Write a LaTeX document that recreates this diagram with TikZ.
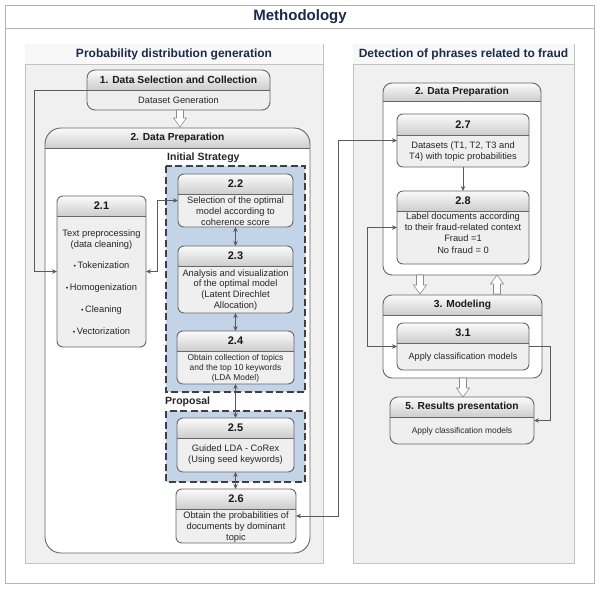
\documentclass[tikz,border=0pt]{standalone}
\usepackage{fontspec}
\setmainfont{Liberation Sans}
\usetikzlibrary{arrows.meta,calc}
\definecolor{navy}{HTML}{1B2A4A}
\definecolor{panelbg}{HTML}{F0F0F0}
\definecolor{panelln}{HTML}{C2C2C2}
\definecolor{outerln}{HTML}{B4B4B4}
\definecolor{boxln}{HTML}{666666}
\definecolor{hdtop}{HTML}{FBFBFB}
\definecolor{hdbot}{HTML}{CDCDCD}
\definecolor{bodyg}{HTML}{EFEFEF}
\definecolor{dashblue}{HTML}{C3D3E8}
\definecolor{conn}{HTML}{5A5A5A}
\tikzset{
  bodytext/.style={font=\fontsize{9.3}{10.9}\selectfont, align=center, text=black!85, inner sep=0pt},
  smalltext/.style={font=\fontsize{8.4}{10}\selectfont, align=center, text=black!85, inner sep=0pt},
  paneltext/.style={font=\bfseries\fontsize{12}{14}\selectfont, text=navy, inner sep=0pt},
  labeltext/.style={font=\bfseries\fontsize{10.5}{12}\selectfont, text=black!85, inner sep=0pt, anchor=west},
  conn/.style={draw=conn, line width=0.8pt},
  tip/.tip={Stealth[length=5pt,width=4.5pt]},
  hollow/.style={draw=black!45, fill=white, line width=0.6pt},
  dashregion/.style={fill=dashblue, draw=black!75, line width=1.3pt, dash pattern=on 7pt off 3.5pt},
  panel/.style={fill=panelbg, draw=panelln, line width=0.8pt}
}
\newcommand{\numfont}{\bfseries\fontsize{11}{13}\selectfont}
\newcommand{\hdfont}{\bfseries\fontsize{10.2}{12}\selectfont}
% #1 name, #2 x1, #3 y1, #4 x2, #5 y2, #6 divider y, #7 radius, #8 body fill, #9 title
\newcommand{\mkbox}[9]{%
  \pgfmathsetmacro{\bw}{#4-#2}\pgfmathsetmacro{\bh}{#5-#3}%
  \node[fill=#8, rounded corners=#7pt, minimum width=\bw pt, minimum height=\bh pt, inner sep=0pt, outer sep=0pt] (#1) at ({(#2+#4)/2},{(#3+#5)/2}) {};
  \begin{scope}
    \clip[rounded corners=#7pt] (#2,#3) rectangle (#4,#5);
    \shade[top color=hdtop, bottom color=hdbot] (#2,#3) rectangle (#4,#6);
  \end{scope}
  \draw[boxln, line width=0.6pt] (#2,#6) -- (#4,#6);
  \draw[boxln, line width=0.9pt, rounded corners=#7pt] (#2,#3) rectangle (#4,#5);
  \node[text=black!90] (#1-h) at ({(#2+#4)/2},{(#3+#6)/2}) {#9};
}
\newcommand{\hdown}[3]{%
  \draw[hollow] (#1-3.5,#2) -- (#1+3.5,#2) -- (#1+3.5,#3-9) -- (#1+6.5,#3-9) -- (#1,#3) -- (#1-6.5,#3-9) -- (#1-3.5,#3-9) -- cycle;}
\newcommand{\hup}[3]{%
  \draw[hollow] (#1-3.5,#2) -- (#1+3.5,#2) -- (#1+3.5,#3+9) -- (#1+6.5,#3+9) -- (#1,#3) -- (#1-6.5,#3+9) -- (#1-3.5,#3+9) -- cycle;}
\begin{document}
\begin{tikzpicture}[x=1pt,y=-1pt]
\useasboundingbox (0,0) rectangle (600,589);
\fill[white] (0,0) rectangle (600,589);
% outer frame
\draw[outerln, line width=0.8pt] (5,5) rectangle (594,583);
\draw[outerln, line width=0.8pt] (5,28) -- (594,28);
\node[font=\bfseries\fontsize{15}{17}\selectfont, text=navy] (title) at (300,16.5) {Methodology};
% panels
\draw[panel] (25,44) rectangle (323,563);
\fill[white!50!panelbg] (25.4,44.4) rectangle (322.6,64);
\draw[panelln, line width=0.8pt] (25,64) -- (323,64);
\node[paneltext] (pl) at (174,54.5) {Probability distribution generation};
\draw[panel] (353,44) rectangle (574,563);
\fill[white!50!panelbg] (353.4,44.4) rectangle (573.6,64);
\draw[panelln, line width=0.8pt] (353,64) -- (574,64);
\node[paneltext] (pr) at (463.5,54.5) {Detection of phrases related to fraud};
% left side
\mkbox{b1}{87}{70}{270}{110}{90}{8}{bodyg}{\bfseries\fontsize{10.3}{12}\selectfont 1. Data Selection and Collection}
\node[bodytext] (b1t) at (178.5,100) {Dataset Generation};
\hdown{180}{110}{127}
\mkbox{b2}{45}{128}{310}{553}{148}{16}{white}{\hdfont 2. Data Preparation}
\node[labeltext] (lis) at (167,158) {Initial Strategy};
\draw[dashregion] (166,166) rectangle (305,392);
\node[labeltext] (lpr) at (165,402) {Proposal};
\draw[dashregion] (166,411) rectangle (305,482);
\mkbox{b21}{57}{196}{146}{347}{216}{6}{bodyg}{\numfont 2.1}
\node[bodytext] (b21t) at (101.5,282) {Text preprocessing\\(data cleaning)\\[10pt]{\scriptsize\textbullet}\,Tokenization\\[11pt]{\scriptsize\textbullet}\,Homogenization\\[11pt]{\scriptsize\textbullet}\,Cleaning\\[11pt]{\scriptsize\textbullet}\,Vectorization};
\mkbox{b22}{178}{174}{293}{227}{194}{6}{bodyg}{\numfont 2.2}
\node[bodytext] (b22t) at (235.5,211.5) {Selection of the optimal\\model according to\\coherence score};
\mkbox{b23}{178}{246}{293}{313}{266}{6}{bodyg}{\numfont 2.3}
\node[bodytext] (b23t) at (235.5,290) {Analysis and visualization\\of the optimal model\\(Latent Direchlet\\Allocation)};
\mkbox{b24}{177}{331}{294}{384}{351}{6}{bodyg}{\numfont 2.4}
\node[smalltext] (b24t) at (235.5,368) {Obtain collection of topics\\and the top 10 keywords\\(LDA Model)};
\mkbox{b25}{177}{418}{294}{472}{438}{6}{bodyg}{\numfont 2.5}
\node[bodytext] (b25t) at (235.5,454.5) {Guided LDA - CoRex\\(Using seed keywords)};
\mkbox{b26}{176}{489}{296}{543}{509}{6}{bodyg}{\numfont 2.6}
\node[bodytext] (b26t) at (236,527) {Obtain the probabilities of\\documents by dominant\\topic};
% right side
\mkbox{r2}{383}{83}{541}{275}{101}{9}{white}{\hdfont 2. Data Preparation}
\mkbox{b27}{397}{114}{529}{167}{135}{6}{bodyg}{\numfont 2.7}
\node[bodytext] (b27t) at (463,151.5) {Datasets (T1, T2, T3 and\\T4) with topic probabilities};
\mkbox{b28}{397}{191}{529}{264}{211}{6}{bodyg}{\numfont 2.8}
\node[bodytext, font=\fontsize{9.3}{11.3}\selectfont] (b28t) at (463,233) {Label documents according\\to their fraud-related context\\Fraud =1\\No fraud = 0};
\hdown{420}{275}{294}
\hup{497}{294}{275}
\mkbox{r3}{383}{295}{542}{378}{315}{9}{white}{\hdfont 3. Modeling}
\mkbox{b31}{397}{323}{529}{370}{343}{6}{bodyg}{\numfont 3.1}
\node[bodytext, font=\fontsize{9.1}{11}\selectfont] (b31t) at (463,357.5) {Apply classification models};
\hdown{463}{378}{397}
\mkbox{r5}{390}{397}{534}{444}{417}{8}{bodyg}{\hdfont 5. Results presentation}
\node[smalltext] (r5t) at (462,431) {Apply classification models};
% connectors
\draw[conn, -tip] (b1.west) -- (34,90) |- (b21.west);
\draw[conn, tip-tip] (b21.east) -- ++(11,0) |- (b22.west);
\draw[conn, tip-tip] (b22.south) -- (b23.north);
\draw[conn, tip-tip] (b23.south) -- (b23.south |- b24.north);
\draw[conn, tip-tip] (b24.south) -- (b24.south |- b25.north);
\draw[conn, tip-tip] (b25.south) -- (b25.south |- b26.north);
\draw[conn, tip-tip] (b26.east) -| ([xshift=-59pt]b27.west) -- (b27.west);
\draw[conn, -tip] (b27.south) -- (b28.north);
\draw[conn, tip-tip] (b28.west) -- ++(-30,0) |- (b31.west);
\draw[conn, -tip] (b31.east) -- ++(21,0) |- (r5.east);
\end{tikzpicture}
\end{document}
